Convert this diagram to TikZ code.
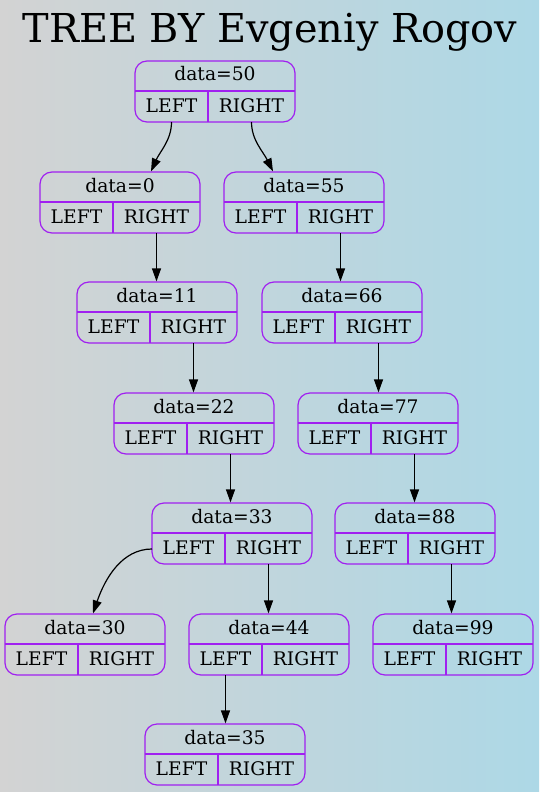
\documentclass[tikz,border=0pt]{standalone}
\usepackage{fontspec}
\setmainfont{DejaVu Serif}
\usetikzlibrary{arrows.meta,calc}
\definecolor{bglgray}{HTML}{D3D3D3}
\definecolor{bglblue}{HTML}{ADD8E6}
\definecolor{bordcol}{HTML}{A020F0}
\tikzset{
  treebox/.style={draw=bordcol, line width=1.2pt, rounded corners=12pt, minimum width=160pt, minimum height=61pt, inner sep=0pt},
  sepline/.style={draw=bordcol, line width=1.2pt},
  txt/.style={inner sep=0pt, anchor=base, font=\fontsize{18.7}{22}\selectfont},
  edge/.style={draw=black, line width=1.2pt, -{Triangle[length=13pt,width=9pt]}}
}
\newcommand\tnode[4]{%
  \node[treebox] (#1) at (#2+80,#3+30.5) {};
  \draw[sepline] (#2,#3+30) -- (#2+160,#3+30);
  \draw[sepline] (#2+73,#3+30) -- (#2+73,#3+61);
  \node[txt] (#1-d) at (#2+80,#3+20) {data=#4};
  \node[txt] (#1-l) at (#2+36.5,#3+51) {LEFT};
  \node[txt] (#1-r) at (#2+116.5,#3+51) {RIGHT};
  \coordinate (#1-lb) at (#2+36.5,#3+61);
  \coordinate (#1-rb) at (#2+116.5,#3+61);
  \coordinate (#1-lw) at (#2,#3+46);
}
\begin{document}
\begin{tikzpicture}[x=1pt,y=-1pt]
\shade[left color=bglgray, right color=bglblue] (0,0) rectangle (539,792);
\useasboundingbox (0,0) rectangle (539,792);
\node[inner sep=0pt, anchor=base, font=\fontsize{39.8}{44}\selectfont] (title) at (270,43) {TREE BY Evgeniy Rogov};
\tnode{n50}{135}{61}{50}
\tnode{n0}{40}{172}{0}
\tnode{n55}{224}{172}{55}
\tnode{n11}{77}{282}{11}
\tnode{n66}{262}{282}{66}
\tnode{n22}{114}{393}{22}
\tnode{n77}{298}{393}{77}
\tnode{n33}{152}{503}{33}
\tnode{n88}{335}{503}{88}
\tnode{n30}{5}{614}{30}
\tnode{n44}{189}{614}{44}
\tnode{n99}{373}{614}{99}
\tnode{n35}{145}{724}{35}
% edges
\draw[edge] (n50-lb) .. controls ($(n50-lb)+(0,18)$) and ($(n0.north)+(40,-20)$) .. ($(n0.north)+(31,0)$);
\draw[edge] (n50-rb) .. controls ($(n50-rb)+(0,18)$) and ($(n55.north)+(-41,-20)$) .. ($(n55.north)+(-31,0)$);
\draw[edge] (n0-rb) -- (n0-rb |- n11.north);
\draw[edge] (n55-rb) -- (n55-rb |- n66.north);
\draw[edge] (n11-rb) -- (n11-rb |- n22.north);
\draw[edge] (n66-rb) -- (n66-rb |- n77.north);
\draw[edge] (n22-rb) -- (n22-rb |- n33.north);
\draw[edge] (n77-rb) -- (n77-rb |- n88.north);
\draw[edge] (n33-rb) -- (n33-rb |- n44.north);
\draw[edge] (n88-rb) -- (n88-rb |- n99.north);
\draw[edge] (n44-lb) -- (n44-lb |- n35.north);
\draw[edge] (n33-lw) .. controls ($(n33-lw)+(-30,0)$) and ($(n30.north)+(20,-35)$) .. ($(n30.north)+(8,0)$);
\end{tikzpicture}
\end{document}
